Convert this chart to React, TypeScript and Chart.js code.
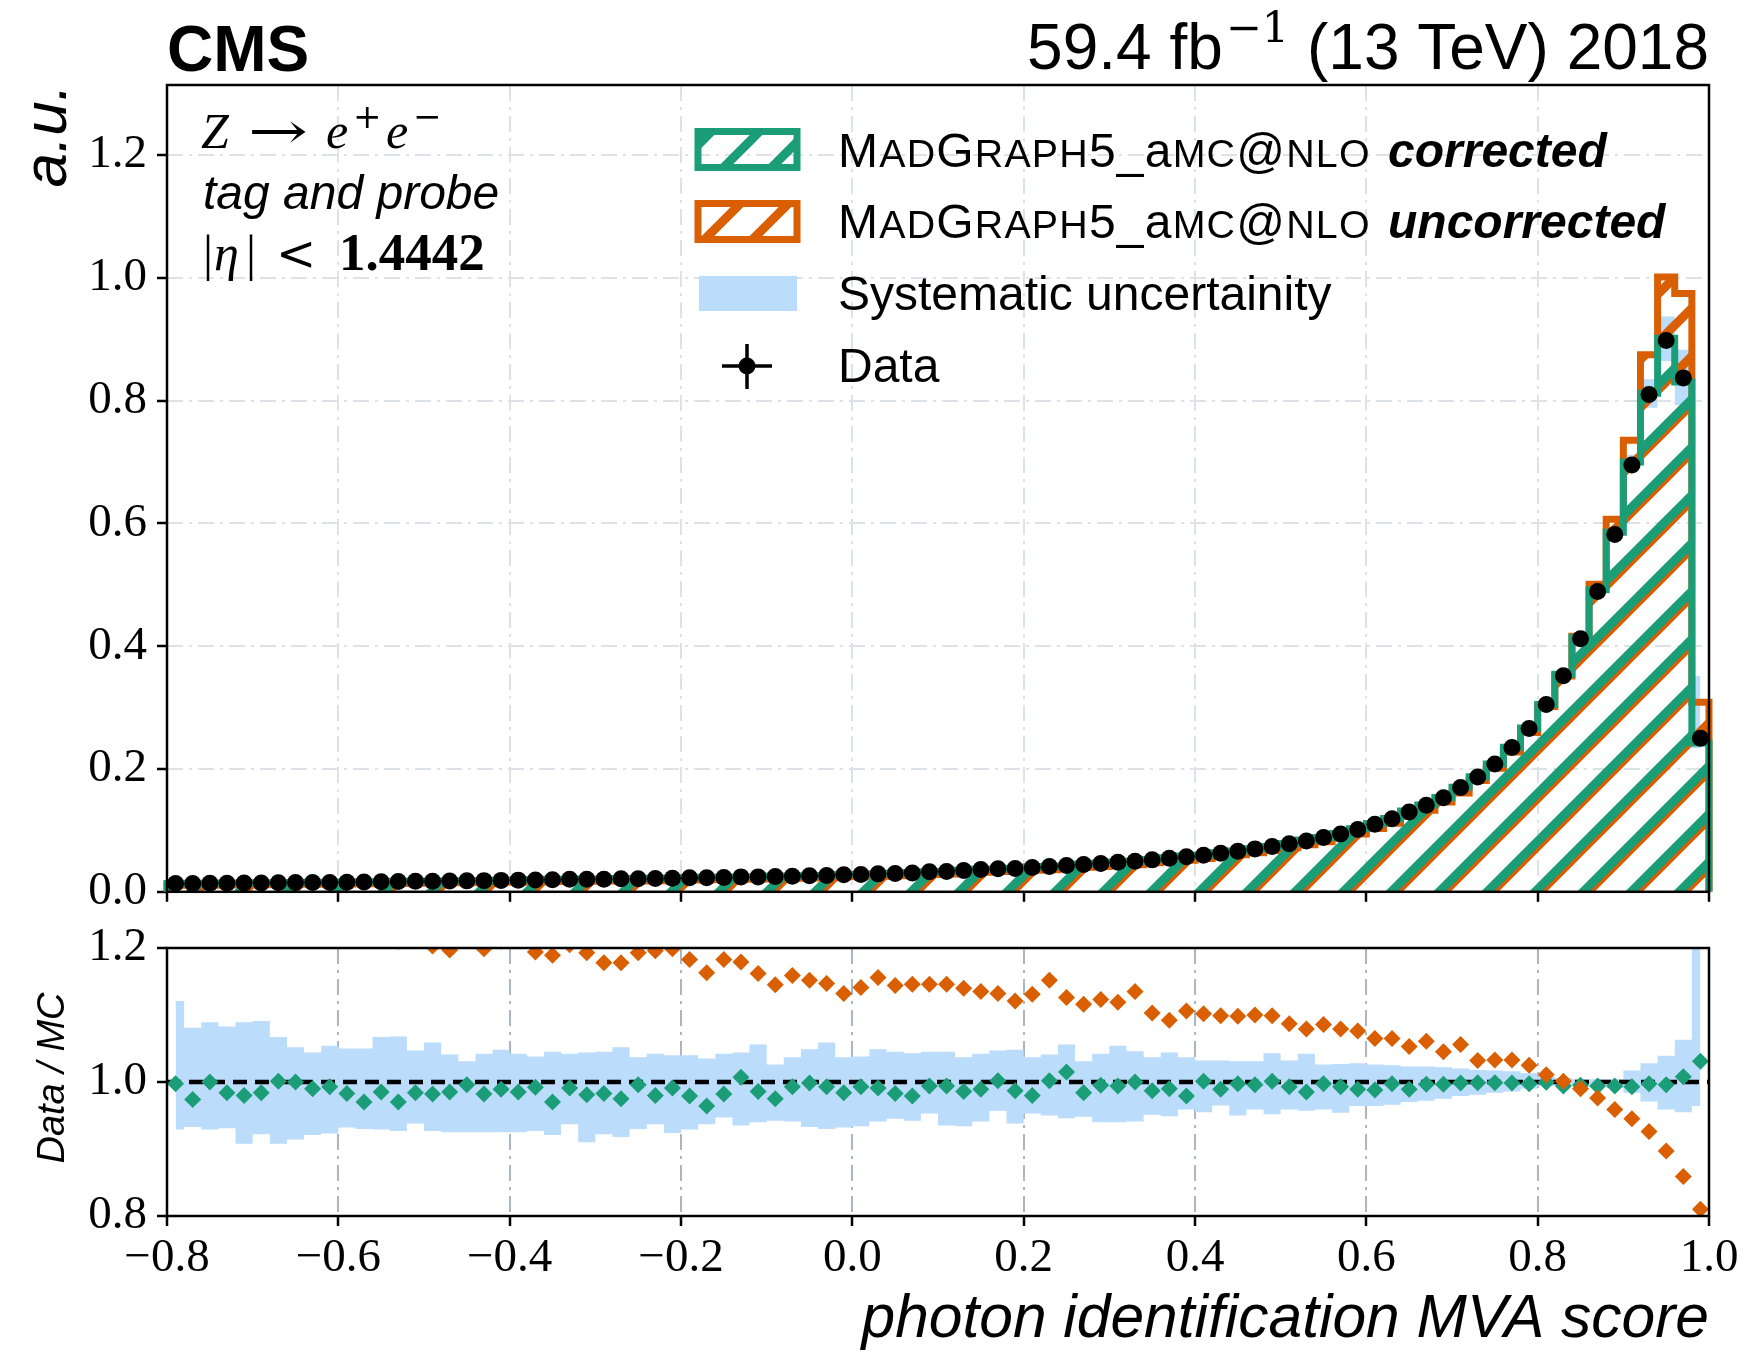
import React, { useEffect, useRef } from "react";
import { Chart, registerables } from "chart.js";

Chart.register(...registerables);

// ---------------- data ----------------
const binEdges = [
  -0.8, -0.78, -0.76, -0.74, -0.72, -0.7, -0.68, -0.66, -0.64, -0.62,
  -0.6, -0.58, -0.56, -0.54, -0.52, -0.5, -0.48, -0.46, -0.44, -0.42,
  -0.4, -0.38, -0.36, -0.34, -0.32, -0.3, -0.28, -0.26, -0.24, -0.22,
  -0.2, -0.18, -0.16, -0.14, -0.12, -0.1, -0.08, -0.06, -0.04, -0.02,
  0.0, 0.02, 0.04, 0.06, 0.08, 0.1, 0.12, 0.14, 0.16, 0.18,
  0.2, 0.22, 0.24, 0.26, 0.28, 0.3, 0.32, 0.34, 0.36, 0.38,
  0.4, 0.42, 0.44, 0.46, 0.48, 0.5, 0.52, 0.54, 0.56, 0.58,
  0.6, 0.62, 0.64, 0.66, 0.68, 0.7, 0.72, 0.74, 0.76, 0.78,
  0.8, 0.82, 0.84, 0.86, 0.88, 0.9, 0.92, 0.94, 0.96, 0.98,
  1.0,
];

// Data (black points), a.u.
const dataValues = [
  0.0135, 0.0135, 0.0138, 0.014, 0.0142, 0.0145, 0.0146, 0.015, 0.0152, 0.0153,
  0.0157, 0.016, 0.0163, 0.0166, 0.017, 0.0172, 0.0175, 0.0178, 0.0182, 0.0186,
  0.019, 0.0194, 0.0198, 0.0203, 0.0203, 0.0205, 0.0211, 0.0211, 0.0216, 0.0222,
  0.0227, 0.0227, 0.0233, 0.0243, 0.0243, 0.0249, 0.0254, 0.026, 0.0265, 0.0276,
  0.0281, 0.0292, 0.0298, 0.0308, 0.0325, 0.033, 0.0347, 0.0363, 0.0374, 0.0379,
  0.0396, 0.0412, 0.0428, 0.0444, 0.0461, 0.0482, 0.0499, 0.052, 0.0547, 0.0569,
  0.0596, 0.0629, 0.0661, 0.0699, 0.0737, 0.0781, 0.0829, 0.0884, 0.0943, 0.1014,
  0.11, 0.119, 0.13, 0.141, 0.153, 0.17, 0.187, 0.208, 0.235, 0.266,
  0.305, 0.352, 0.412, 0.489, 0.582, 0.695, 0.81, 0.898, 0.837, 0.25,
];

// Data / MC, MadGraph5_aMC@NLO corrected (green diamonds)
const ratioCorrected = [
  0.9975, 0.974, 1.0, 0.984, 0.98, 0.984, 1.001, 1.0, 0.99, 0.993,
  0.983, 0.97, 0.985, 0.97, 0.984, 0.982, 0.985, 0.996, 0.982, 0.989,
  0.985, 0.992, 0.97, 0.991, 0.981, 0.983, 0.975, 0.996, 0.98, 0.991,
  0.979, 0.964, 0.982, 1.007, 0.986, 0.975, 0.993, 0.9985, 0.993, 0.984,
  0.993, 0.991, 0.983, 0.979, 0.994, 0.994, 0.986, 0.989, 1.002, 0.987,
  0.98, 1.002, 1.015, 0.984, 0.995, 0.994, 1.0, 0.987, 0.99, 0.979,
  1.001, 0.989, 0.9975, 0.996, 1.001, 0.993, 0.985, 0.9975, 0.993, 0.989,
  0.988, 0.9975, 0.989, 0.9965, 0.9965, 0.9985, 0.999, 0.999, 0.9985, 0.9975,
  0.9995, 0.994, 0.995, 0.994, 0.994, 0.993, 0.9975, 0.996, 1.008, 1.031,
];

// Data / MC, MadGraph5_aMC@NLO uncorrected (orange diamonds)
const ratioUncorrected = [
  1.28, 1.27, 1.29, 1.26, 1.27, 1.25, 1.26, 1.24, 1.25, 1.23,
  1.24, 1.22, 1.23, 1.21, 1.22, 1.203, 1.197, 1.215, 1.199, 1.21,
  1.212, 1.194, 1.189, 1.205, 1.193, 1.178, 1.178, 1.193, 1.196, 1.199,
  1.183, 1.163, 1.183, 1.179, 1.162, 1.145, 1.159, 1.152, 1.147, 1.132,
  1.141, 1.156, 1.144, 1.146, 1.146, 1.146, 1.14, 1.135, 1.132, 1.121,
  1.131, 1.152, 1.126, 1.116, 1.123, 1.119, 1.135, 1.103, 1.092, 1.106,
  1.102, 1.099, 1.098, 1.1, 1.099, 1.087, 1.079, 1.086, 1.079, 1.076,
  1.065, 1.065, 1.053, 1.061, 1.045, 1.056, 1.032, 1.033, 1.033, 1.025,
  1.011, 1.001, 0.99, 0.976, 0.959, 0.945, 0.926, 0.897, 0.859, 0.81,
];

// Systematic uncertainty band (relative), upper and lower edges
const bandHigh = [
  1.121, 1.081, 1.089, 1.083, 1.089, 1.091, 1.067, 1.052, 1.044, 1.054,
  1.05, 1.05, 1.067, 1.068, 1.047, 1.059, 1.041, 1.031, 1.042, 1.048,
  1.042, 1.038, 1.045, 1.042, 1.044, 1.045, 1.052, 1.037, 1.042, 1.04,
  1.04, 1.035, 1.042, 1.044, 1.056, 1.026, 1.037, 1.049, 1.059, 1.037,
  1.038, 1.049, 1.045, 1.043, 1.045, 1.045, 1.037, 1.042, 1.047, 1.048,
  1.037, 1.041, 1.056, 1.031, 1.042, 1.054, 1.046, 1.037, 1.044, 1.037,
  1.032, 1.032, 1.031, 1.031, 1.043, 1.032, 1.042, 1.026, 1.027, 1.028,
  1.026, 1.025, 1.023, 1.023, 1.022, 1.02, 1.018, 1.017, 1.016, 1.013,
  1.008, 1.006, 1.004, 1.004, 1.004, 1.017, 1.028, 1.039, 1.063, 1.45,
];
const bandLow = [
  0.929, 0.933, 0.929, 0.931, 0.908, 0.922, 0.908, 0.914, 0.921, 0.923,
  0.932, 0.93, 0.929, 0.927, 0.938, 0.927, 0.925, 0.925, 0.925, 0.925,
  0.925, 0.927, 0.921, 0.937, 0.91, 0.922, 0.918, 0.93, 0.937, 0.924,
  0.929, 0.937, 0.947, 0.935, 0.94, 0.942, 0.941, 0.933, 0.93, 0.932,
  0.934, 0.941, 0.945, 0.942, 0.953, 0.935, 0.934, 0.941, 0.957, 0.938,
  0.953, 0.95, 0.946, 0.948, 0.94, 0.94, 0.941, 0.951, 0.949, 0.959,
  0.955, 0.965, 0.95, 0.959, 0.952, 0.959, 0.957, 0.959, 0.954, 0.964,
  0.964, 0.966, 0.97, 0.972, 0.975, 0.979, 0.981, 0.984, 0.986, 0.99,
  0.994, 0.996, 0.996, 0.995, 0.991, 0.984, 0.971, 0.959, 0.955, 0.964,
];

const xTicks = [-0.8, -0.6, -0.4, -0.2, 0.0, 0.2, 0.4, 0.6, 0.8, 1.0];
const mainYTicks = [0.0, 0.2, 0.4, 0.6, 0.8, 1.0, 1.2];
const ratioYTicks = [0.8, 1.0, 1.2];
const mainYMax = 1.314;
const ratioMin = 0.8;
const ratioMax = 1.2;
const ratioReference = 1.0;

// ---------------- styles ----------------
const GREEN = "#1b9e77";
const ORANGE = "#d95f02";
const BAND = "#bbdcfb";
const SANS = '"Liberation Sans", Arial, Helvetica, sans-serif';
const SERIF = '"Liberation Serif", "Times New Roman", serif';
const MATH = '"DejaVu Serif", "Liberation Serif", serif';

// geometry of the two canvases (page pixels)
const RATIO_TOP = 880;

// tables built from the arrays above
const binCenters = dataValues.map((_, i) => (binEdges[i] + binEdges[i + 1]) / 2);
const mcCorrected = dataValues.map((d, i) => d / ratioCorrected[i]);
const mcUncorrected = dataValues.map((d, i) => d / ratioUncorrected[i]);

function histPoints(values: number[]) {
  const pts: { x: number; y: number }[] = [{ x: binEdges[0], y: 0 }];
  binEdges.forEach((e, i) => pts.push({ x: e, y: values[Math.min(i, values.length - 1)] }));
  pts.push({ x: binEdges[binEdges.length - 1], y: 0 });
  return pts;
}

function makeHatch(color: string, phase: number, width: number): any {
  const S = 48;
  const c = document.createElement("canvas");
  c.width = S;
  c.height = S;
  const g = c.getContext("2d");
  if (!g) return color;
  g.strokeStyle = color;
  g.lineWidth = width;
  g.beginPath();
  for (let k = -3; k <= 3; k++) {
    const s = phase + k * S; // line x + y = s
    g.moveTo(s + S, -S);
    g.lineTo(s - 2 * S, 2 * S);
  }
  g.stroke();
  return g.createPattern(c, "repeat") || color;
}

type Run = { text: string; font: string; dy?: number; gap?: number };
function measureRuns(ctx: CanvasRenderingContext2D, runs: Run[]) {
  let w = 0;
  for (const r of runs) {
    ctx.font = r.font;
    w += ctx.measureText(r.text).width + (r.gap || 0);
  }
  return w;
}
function drawRuns(ctx: CanvasRenderingContext2D, runs: Run[], x: number, y: number) {
  let cx = x;
  for (const r of runs) {
    ctx.font = r.font;
    ctx.fillText(r.text, cx, y + (r.dy || 0));
    cx += ctx.measureText(r.text).width + (r.gap || 0);
  }
  return cx - x;
}
function madgraphRuns(size: number): Run[] {
  const big = `${size}px ${SANS}`;
  const small = `${size * 0.82}px ${SANS}`;
  return [
    { text: "M", font: big },
    { text: "AD", font: small },
    { text: "G", font: big },
    { text: "RAPH", font: small },
    { text: "5_a", font: big },
    { text: "MC", font: small },
    { text: "@", font: big },
    { text: "NLO", font: small },
  ];
}
function drawStretched(
  ctx: CanvasRenderingContext2D,
  text: string,
  font: string,
  x: number,
  y: number,
  width: number
) {
  ctx.font = font;
  const w = ctx.measureText(text).width || 1;
  ctx.save();
  ctx.translate(x, y);
  ctx.scale(width / w, 1);
  ctx.fillText(text, 0, 0);
  ctx.restore();
}

const framePlugin = {
  id: "frame",
  afterDatasetsDraw(chart: any) {
    const { ctx, chartArea: a } = chart;
    ctx.save();
    ctx.strokeStyle = "#000";
    ctx.lineWidth = 2.5;
    ctx.strokeRect(a.left, a.top, a.right - a.left, a.bottom - a.top);
    ctx.restore();
  },
};

const fmtTick = (v: any) => {
  const n = Number(v);
  const s = Math.abs(n).toFixed(1);
  return n < -1e-9 ? "\u2212" + s : s;
};

function gridOpts(color: string, onArea: boolean) {
  return {
    display: true,
    drawOnChartArea: onArea,
    drawTicks: true,
    color,
    lineWidth: 2,
    tickLength: 10,
    tickColor: "#000",
    tickWidth: 2.5,
    tickBorderDash: [],
  };
}

export default function App() {
  const mainRef = useRef<HTMLCanvasElement>(null);
  const ratioRef = useRef<HTMLCanvasElement>(null);

  useEffect(() => {
    if (!mainRef.current || !ratioRef.current) return;
    const greenHatch = makeHatch(GREEN, 27, 9);
    const orangeHatch = makeHatch(ORANGE, 32, 9);

    const mainText = {
      id: "mainText",
      afterDraw(chart: any) {
        const ctx: any = chart.ctx;
        ctx.save();
        ctx.fillStyle = "#000";
        ctx.textAlign = "left";
        ctx.textBaseline = "alphabetic";

        // CMS label
        ctx.font = `bold 64px ${SANS}`;
        ctx.fillText("CMS", 167, 71);

        // luminosity label
        const lumi: Run[] = [
          { text: "59.4 fb", font: `64px ${SANS}`, gap: 3 },
          { text: "\u22121", font: `43px ${MATH}`, dy: -27 },
          { text: " (13 TeV) 2018", font: `64px ${SANS}` },
        ];
        drawRuns(ctx, lumi, 1709 - measureRuns(ctx, lumi), 69);

        // annotation block
        const mi = `italic 50px ${SERIF}`;
        ctx.font = mi;
        ctx.fillText("Z", 201, 148);
        drawStretched(ctx, "\u2192", `50px ${MATH}`, 248, 148, 60);
        ctx.font = mi;
        ctx.fillText("e", 326, 148);
        ctx.font = `34px ${MATH}`;
        ctx.fillText("+", 353, 128);
        ctx.font = mi;
        ctx.fillText("e", 386, 148);
        ctx.font = `34px ${MATH}`;
        ctx.fillText("\u2212", 413, 128);

        ctx.font = `italic 48px ${SANS}`;
        ctx.fillText("tag and probe", 203, 209);

        ctx.font = `50px ${SERIF}`;
        ctx.fillText("|", 203, 270);
        ctx.font = mi;
        ctx.fillText("\u03b7", 214, 270);
        ctx.font = `50px ${SERIF}`;
        ctx.fillText("|", 246, 270);
        ctx.font = `48px ${MATH}`;
        ctx.fillText("<", 276, 270);
        ctx.font = `bold 53px ${SERIF}`;
        ctx.fillText("1.4442", 339, 270);

        // legend
        ctx.lineJoin = "miter";
        ctx.beginPath();
        ctx.rect(698, 131.5, 99, 36);
        ctx.fillStyle = greenHatch;
        ctx.fill();
        ctx.lineWidth = 7;
        ctx.strokeStyle = GREEN;
        ctx.stroke();

        ctx.beginPath();
        ctx.rect(698, 203.5, 99, 36);
        ctx.fillStyle = orangeHatch;
        ctx.fill();
        ctx.strokeStyle = ORANGE;
        ctx.stroke();

        ctx.fillStyle = BAND;
        ctx.fillRect(699, 276, 98, 35);

        ctx.strokeStyle = "#000";
        ctx.lineWidth = 3.5;
        ctx.beginPath();
        ctx.moveTo(747, 344);
        ctx.lineTo(747, 389);
        ctx.moveTo(722, 366);
        ctx.lineTo(772, 366);
        ctx.stroke();
        ctx.fillStyle = "#000";
        ctx.beginPath();
        ctx.arc(747, 366, 8.5, 0, Math.PI * 2);
        ctx.fill();

        ctx.letterSpacing = "1.2px";
        drawRuns(ctx, madgraphRuns(48), 838, 167);
        drawRuns(ctx, madgraphRuns(48), 838, 238);
        ctx.letterSpacing = "0px";
        ctx.font = `italic bold 48px ${SANS}`;
        ctx.fillText("corrected", 1388, 167);
        ctx.fillText("uncorrected", 1388, 238);
        ctx.font = `48px ${SANS}`;
        ctx.fillText("Systematic uncertainity", 838, 310);
        ctx.fillText("Data", 838, 382);

        // y-axis title
        ctx.save();
        ctx.translate(66, 84);
        ctx.rotate(-Math.PI / 2);
        ctx.textAlign = "right";
        ctx.font = `italic 62px ${SANS}`;
        ctx.fillText("a.u.", 0, 0);
        ctx.restore();

        ctx.restore();
      },
    };

    const ratioText = {
      id: "ratioText",
      afterDraw(chart: any) {
        const ctx: CanvasRenderingContext2D = chart.ctx;
        ctx.save();
        ctx.fillStyle = "#000";
        ctx.textBaseline = "alphabetic";
        ctx.save();
        ctx.translate(64, 1078 - RATIO_TOP);
        ctx.rotate(-Math.PI / 2);
        ctx.textAlign = "center";
        ctx.font = `italic 38px ${SANS}`;
        ctx.fillText("Data / MC", 0, 0);
        ctx.restore();
        ctx.textAlign = "right";
        ctx.font = `italic 60.5px ${SANS}`;
        ctx.fillText("photon identification MVA score", 1709, 1337 - RATIO_TOP);
        ctx.restore();
      },
    };

    const common = {
      responsive: false,
      animation: false as const,
      devicePixelRatio: 1,
      events: [] as any[],
      plugins: {
        legend: { display: false },
        tooltip: { enabled: false },
        title: { display: false },
      },
    };

    const dash = [16, 6, 3, 6];

    const main = new Chart(mainRef.current, {
      type: "line",
      data: {
        datasets: [
          {
            label: "Data",
            data: binCenters.map((x, i) => ({ x, y: dataValues[i] })),
            showLine: false,
            pointStyle: "circle",
            pointRadius: 8.5,
            pointHoverRadius: 8.5,
            pointBorderWidth: 0,
            pointBackgroundColor: "#000",
            borderColor: "#000",
            backgroundColor: "#000",
            clip: false,
            order: 0,
          },
          {
            label: "MadGraph5_aMC@NLO corrected",
            data: histPoints(mcCorrected),
            stepped: "before",
            borderColor: GREEN,
            borderWidth: 7,
            borderJoinStyle: "miter",
            backgroundColor: greenHatch,
            fill: "origin",
            pointRadius: 0,
            clip: { left: 4, right: 4, top: 0, bottom: 0 },
            order: 1,
          },
          {
            label: "MadGraph5_aMC@NLO uncorrected",
            data: histPoints(mcUncorrected),
            stepped: "before",
            borderColor: ORANGE,
            borderWidth: 7,
            borderJoinStyle: "miter",
            backgroundColor: orangeHatch,
            fill: "origin",
            pointRadius: 0,
            clip: { left: 4, right: 4, top: 0, bottom: 0 },
            order: 2,
          },
          {
            label: "Systematic uncertainty (up)",
            data: binCenters.map((x, i) => ({ x, y: mcCorrected[i] * bandHigh[i] })),
            stepped: "middle",
            borderWidth: 0,
            borderColor: "rgba(0,0,0,0)",
            backgroundColor: BAND,
            fill: "+1",
            pointRadius: 0,
            order: 3,
          },
          {
            label: "Systematic uncertainty (down)",
            data: binCenters.map((x, i) => ({ x, y: mcCorrected[i] * bandLow[i] })),
            stepped: "middle",
            borderWidth: 0,
            borderColor: "rgba(0,0,0,0)",
            fill: false,
            pointRadius: 0,
            order: 4,
          },
        ] as any,
      },
      options: {
        ...common,
        layout: { padding: { left: 0, right: 39, top: 85, bottom: 0 } },
        scales: {
          x: {
            type: "linear",
            min: xTicks[0],
            max: xTicks[xTicks.length - 1],
            afterBuildTicks: (s: any) => {
              s.ticks = xTicks.map((v) => ({ value: v }));
            },
            afterFit: (s: any) => {
              s.height = 37;
            },
            grid: gridOpts("#dde2e8", true),
            border: { display: false, dash },
            ticks: { display: false },
          },
          y: {
            type: "linear",
            min: 0,
            max: mainYMax,
            afterBuildTicks: (s: any) => {
              s.ticks = mainYTicks.map((v) => ({ value: v }));
            },
            afterFit: (s: any) => {
              s.width = 167;
            },
            grid: gridOpts("#dde2e8", true),
            border: { display: false, dash },
            ticks: {
              font: { family: SERIF, size: 47 },
              color: "#000",
              padding: 10,
              callback: fmtTick,
            },
          },
        },
      } as any,
      plugins: [framePlugin, mainText],
    });

    const ratio = new Chart(ratioRef.current, {
      type: "line",
      data: {
        datasets: [
          {
            label: "uncorrected",
            data: binCenters.map((x, i) => ({ x, y: ratioUncorrected[i] })),
            showLine: false,
            pointStyle: "rectRot",
            pointRadius: 8.5,
            pointHoverRadius: 8.5,
            pointBorderWidth: 0,
            pointBackgroundColor: ORANGE,
            borderColor: ORANGE,
            clip: 0,
            order: 0,
          },
          {
            label: "corrected",
            data: binCenters.map((x, i) => ({ x, y: ratioCorrected[i] })),
            showLine: false,
            pointStyle: "rectRot",
            pointRadius: 8.5,
            pointHoverRadius: 8.5,
            pointBorderWidth: 0,
            pointBackgroundColor: GREEN,
            borderColor: GREEN,
            clip: 0,
            order: 1,
          },
          {
            label: "reference",
            data: [
              { x: xTicks[0], y: ratioReference },
              { x: xTicks[xTicks.length - 1], y: ratioReference },
            ],
            borderColor: "#000",
            borderWidth: 4.5,
            borderDash: [14, 8],
            pointRadius: 0,
            fill: false,
            order: 2,
          },
          {
            label: "band up",
            data: binCenters.map((x, i) => ({ x, y: bandHigh[i] })),
            stepped: "middle",
            borderWidth: 0,
            borderColor: "rgba(0,0,0,0)",
            backgroundColor: BAND,
            fill: "+1",
            pointRadius: 0,
            order: 3,
          },
          {
            label: "band down",
            data: binCenters.map((x, i) => ({ x, y: bandLow[i] })),
            stepped: "middle",
            borderWidth: 0,
            borderColor: "rgba(0,0,0,0)",
            fill: false,
            pointRadius: 0,
            order: 4,
          },
        ] as any,
      },
      options: {
        ...common,
        layout: { padding: { left: 0, right: 39, top: 948 - RATIO_TOP, bottom: 0 } },
        scales: {
          x: {
            type: "linear",
            min: xTicks[0],
            max: xTicks[xTicks.length - 1],
            afterBuildTicks: (s: any) => {
              s.ticks = xTicks.map((v) => ({ value: v }));
            },
            afterFit: (s: any) => {
              s.height = 1355 - 1216;
            },
            grid: gridOpts("#aab6c5", true),
            border: { display: false, dash },
            ticks: {
              font: { family: SERIF, size: 47 },
              color: "#000",
              padding: 4,
              maxRotation: 0,
              autoSkip: false,
              callback: fmtTick,
            },
          },
          y: {
            type: "linear",
            min: ratioMin,
            max: ratioMax,
            afterBuildTicks: (s: any) => {
              s.ticks = ratioYTicks.map((v) => ({ value: v }));
            },
            afterFit: (s: any) => {
              s.width = 167;
            },
            grid: gridOpts("#aab6c5", false),
            border: { display: false },
            ticks: {
              font: { family: SERIF, size: 47 },
              color: "#000",
              padding: 10,
              callback: fmtTick,
            },
          },
        },
      } as any,
      plugins: [framePlugin, ratioText],
    });

    return () => {
      main.destroy();
      ratio.destroy();
    };
  }, []);

  return (
    <div
      style={{
        position: "absolute",
        left: 0,
        top: 0,
        width: 1748,
        height: 1355,
        background: "#ffffff",
        overflow: "hidden",
      }}
    >
      <canvas
        ref={mainRef}
        width={1748}
        height={930}
        style={{ position: "absolute", left: 0, top: 0, display: "block" }}
      />
      <canvas
        ref={ratioRef}
        width={1748}
        height={1355 - RATIO_TOP}
        style={{ position: "absolute", left: 0, top: RATIO_TOP, display: "block" }}
      />
    </div>
  );
}
